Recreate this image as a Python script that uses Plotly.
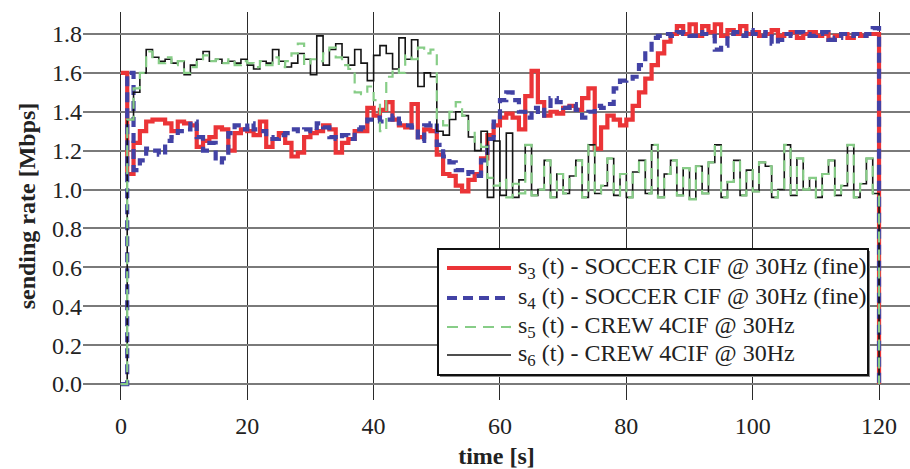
import numpy as np
import plotly.graph_objects as go

# sampling instants [s]; each value holds until the next instant
time_s = list(range(0, 121))

s3_soccer = [
    1.60, 1.08, 1.24, 1.30, 1.35, 1.36, 1.36, 1.34, 1.30, 1.35,
    1.34, 1.33, 1.22, 1.25, 1.27, 1.32, 1.31, 1.20, 1.29, 1.31,
    1.30, 1.28, 1.35, 1.22, 1.26, 1.29, 1.24, 1.17, 1.19, 1.27,
    1.29, 1.30, 1.33, 1.31, 1.19, 1.24, 1.26, 1.30, 1.30, 1.42,
    1.38, 1.41, 1.45, 1.36, 1.33, 1.32, 1.44, 1.27, 1.31, 1.30,
    1.18, 1.08, 1.07, 1.02, 0.99, 1.05, 1.08, 1.16, 1.28, 1.33,
    1.37, 1.39, 1.37, 1.31, 1.48, 1.61, 1.45, 1.38, 1.40, 1.39,
    1.42, 1.43, 1.41, 1.47, 1.52, 1.21, 1.32, 1.38, 1.36, 1.33,
    1.36, 1.43, 1.50, 1.57, 1.64, 1.70, 1.76, 1.80, 1.84, 1.80,
    1.85, 1.79, 1.84, 1.81, 1.85, 1.79, 1.82, 1.80, 1.84, 1.80,
    1.81, 1.79, 1.80, 1.82, 1.79, 1.80, 1.81, 1.78, 1.80, 1.81,
    1.79, 1.80, 1.77, 1.79, 1.80, 1.78, 1.80, 1.79, 1.80, 1.80,
    0.00,
]

s4_soccer = [
    0.00, 1.60, 1.10, 1.15, 1.21, 1.20, 1.18, 1.25, 1.27, 1.30,
    1.31, 1.35, 1.27, 1.20, 1.24, 1.14, 1.16, 1.29, 1.33, 1.31,
    1.34, 1.31, 1.30, 1.27, 1.26, 1.28, 1.29, 1.31, 1.30, 1.31,
    1.30, 1.34, 1.32, 1.27, 1.26, 1.28, 1.26, 1.31, 1.32, 1.36,
    1.37, 1.35, 1.36, 1.38, 1.34, 1.33, 1.32, 1.25, 1.33, 1.34,
    1.23, 1.17, 1.14, 1.10, 1.08, 1.09, 1.07, 1.15, 1.26, 1.35,
    1.46, 1.50, 1.46, 1.40, 1.37, 1.42, 1.38, 1.43, 1.47, 1.45,
    1.42, 1.44, 1.41, 1.37, 1.40, 1.43, 1.42, 1.44, 1.52, 1.56,
    1.57, 1.58, 1.64, 1.70, 1.78, 1.79, 1.80, 1.79, 1.81, 1.80,
    1.79, 1.81, 1.80, 1.79, 1.72, 1.74, 1.80, 1.81, 1.79, 1.82,
    1.80, 1.79, 1.81, 1.75, 1.77, 1.80, 1.79, 1.81, 1.80, 1.79,
    1.80, 1.81, 1.77, 1.78, 1.80, 1.79, 1.80, 1.79, 1.80, 1.83,
    0.00,
]

s5_crew = [
    0.00, 1.36, 1.52, 1.60, 1.71, 1.67, 1.65, 1.68, 1.64, 1.66,
    1.60, 1.63, 1.67, 1.69, 1.66, 1.67, 1.65, 1.67, 1.64, 1.66,
    1.65, 1.63, 1.66, 1.64, 1.68, 1.63, 1.66, 1.70, 1.75, 1.64,
    1.67, 1.66, 1.70, 1.73, 1.68, 1.64, 1.62, 1.50, 1.49, 1.53,
    1.46, 1.30, 1.58, 1.62, 1.60, 1.69, 1.67, 1.73, 1.70, 1.72,
    1.36, 1.33, 1.40, 1.45, 1.38, 1.30, 1.24, 1.22, 1.06, 1.02,
    1.05, 0.96, 1.03, 0.98, 1.23, 0.97, 1.00, 1.15, 0.96, 1.08,
    0.98, 1.07, 1.15, 0.96, 1.23, 0.98, 1.02, 1.16, 0.97, 1.08,
    0.96, 1.09, 1.15, 0.98, 1.23, 0.96, 1.08, 1.15, 0.97, 1.11,
    0.95, 1.12, 0.98, 1.14, 1.23, 0.96, 1.04, 1.15, 0.97, 1.10,
    0.99, 1.14, 1.12, 0.96, 1.00, 1.23, 0.97, 1.16, 1.00, 1.06,
    0.96, 1.08, 1.15, 0.97, 1.02, 1.23, 0.96, 1.03, 1.16, 0.98,
    0.00,
]

s6_crew = [
    0.00, 1.36, 1.50, 1.60, 1.72, 1.68, 1.66, 1.67, 1.65, 1.66,
    1.59, 1.64, 1.67, 1.71, 1.66, 1.67, 1.65, 1.66, 1.65, 1.67,
    1.64, 1.62, 1.66, 1.65, 1.72, 1.66, 1.63, 1.65, 1.70, 1.67,
    1.59, 1.79, 1.64, 1.72, 1.75, 1.68, 1.64, 1.72, 1.65, 1.56,
    1.69, 1.74, 1.70, 1.62, 1.78, 1.67, 1.77, 1.53, 1.60, 1.58,
    1.30, 1.28, 1.36, 1.40, 1.38, 1.27, 1.20, 1.30, 0.96, 1.25,
    0.97, 1.29, 0.96, 1.05, 1.23, 0.97, 1.00, 1.15, 0.96, 1.08,
    0.98, 1.07, 1.15, 0.96, 1.23, 0.98, 1.02, 1.16, 0.97, 1.08,
    0.96, 1.09, 1.15, 0.98, 1.23, 0.96, 1.08, 1.15, 0.97, 1.11,
    0.95, 1.12, 0.98, 1.14, 1.23, 0.96, 1.04, 1.15, 0.97, 1.10,
    0.99, 1.14, 1.12, 0.96, 1.00, 1.23, 0.97, 1.16, 1.00, 1.06,
    0.96, 1.08, 1.15, 0.97, 1.02, 1.23, 0.96, 1.03, 1.16, 0.98,
    0.00,
]

x_ticks = [0, 20, 40, 60, 80, 100, 120]
y_ticks = [0.0, 0.2, 0.4, 0.6, 0.8, 1.0, 1.2, 1.4, 1.6, 1.8]

SERIF = "Liberation Serif, Times New Roman, serif"
W, H = 910, 469
M_L, M_R, M_T, M_B = 83, 0, 12, 69

# series styling; the crew streams are drawn last so they sit on top
series = [
    dict(y=s3_soccer, label="s<sub>3</sub> (t) - SOCCER CIF @ 30Hz (fine)",
         color="rgb(235,52,55)", width=4.2, dash="solid", row=0),
    dict(y=s4_soccer, label="s<sub>4</sub> (t) - SOCCER CIF @ 30Hz (fine)",
         color="rgb(66,66,165)", width=4.2, dash="10px,6px", row=1),
    dict(y=s6_crew, label="s<sub>6</sub> (t) - CREW 4CIF @ 30Hz",
         color="rgb(20,20,20)", width=1.6, dash="solid", row=3),
    dict(y=s5_crew, label="s<sub>5</sub> (t) - CREW 4CIF @ 30Hz",
         color="rgb(135,205,135)", width=2.2, dash="11px,7px", row=2),
]

fig = go.Figure()
for s in series:
    fig.add_trace(go.Scatter(
        x=time_s, y=s["y"], name=s["label"], mode="lines", showlegend=False,
        line=dict(color=s["color"], width=s["width"], dash=s["dash"], shape="hv"),
    ))

# hand-built legend box (pixel layout converted to paper fractions)
plot_w = W - M_L - M_R
plot_h = H - M_T - M_B


def px_x(px):
    return (px - M_L) / plot_w


def px_y(py):
    return (H - M_B - py) / plot_h


box_l, box_r, box_t, box_b = 438, 868, 249, 375
row_y = [268, 298, 327, 355]
sample_x0, sample_x1, text_x = 447, 511, 516

shapes = [
    dict(type="rect", xref="paper", yref="paper",
         x0=px_x(box_l + 2), x1=px_x(box_r + 2), y0=px_y(box_b + 2), y1=px_y(box_t + 2),
         fillcolor="#8a8a8a", line=dict(width=0)),
    dict(type="rect", xref="paper", yref="paper",
         x0=px_x(box_l), x1=px_x(box_r), y0=px_y(box_b), y1=px_y(box_t),
         fillcolor="white", line=dict(color="#111", width=2)),
]
annotations = []
for s in series:
    yy = px_y(row_y[s["row"]])
    shapes.append(dict(
        type="line", xref="paper", yref="paper",
        x0=px_x(sample_x0), x1=px_x(sample_x1), y0=yy, y1=yy,
        line=dict(color=s["color"], width=s["width"], dash=s["dash"]),
    ))
    annotations.append(dict(
        xref="paper", yref="paper", x=px_x(text_x), y=yy,
        xanchor="left", yanchor="middle", showarrow=False,
        text=s["label"], font=dict(family=SERIF, size=24, color="#222"),
    ))

fig.update_layout(
    width=W, height=H,
    margin=dict(l=M_L, r=M_R, t=M_T, b=M_B),
    paper_bgcolor="white", plot_bgcolor="white",
    font=dict(family=SERIF, size=24, color="#222"),
    showlegend=False,
    shapes=shapes,
    annotations=annotations,
)

fig.update_xaxes(
    range=[-6, 124.9], tickvals=x_ticks,
    showgrid=True, gridcolor="#2a2a2a", gridwidth=1.3,
    zeroline=False, showline=False, ticks="",
    ticklabelstandoff=9,
    title=dict(text="<b>time [s]</b>", font=dict(family=SERIF, size=24), standoff=9),
)
fig.update_yaxes(
    range=[-0.082, 1.913], tickvals=y_ticks, tickformat=".1f",
    showgrid=True, gridcolor="#7a7a7a", gridwidth=1.6,
    zeroline=False, showline=False, ticks="",
    title=dict(text="<b>sending rate [Mbps]</b>", font=dict(family=SERIF, size=24), standoff=9),
)

fig.write_html("out.html")
